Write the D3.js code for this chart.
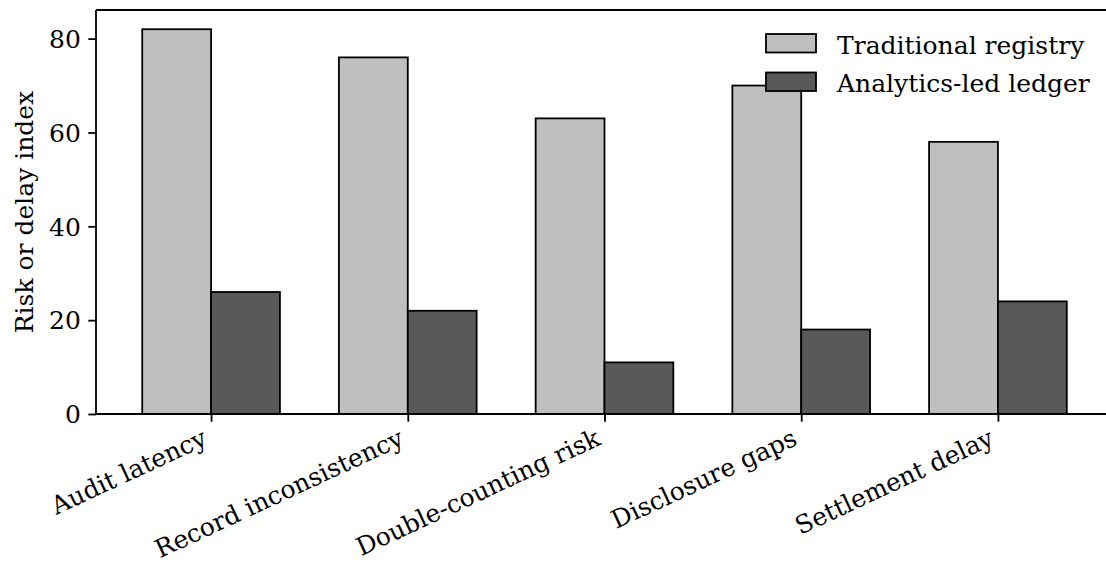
<!DOCTYPE html>
<html><head><meta charset="utf-8">
<script src="https://cdn.jsdelivr.net/npm/d3@7"></script>
<style>
html,body{margin:0;padding:0;background:#fff;}
svg{display:block;}
text{font-family:"DejaVu Serif",serif;fill:#000;}
</style></head>
<body><svg id="chart" width="1106" height="565"></svg>
<script>
const categories = ["Audit latency","Record inconsistency","Double-counting risk","Disclosure gaps","Settlement delay"];
const seriesNames = ["Traditional registry","Analytics-led ledger"];
const traditional = [82,76,63,70,58];
const analytics = [26,22,11,18,24];
const yTicks = [0,20,40,60,80];
const yLabel = "Risk or delay index";

const W = 1106, H = 565;
const margin = {left:96, top:10, right:-7, bottom:151};
const iw = W - margin.left - margin.right;
const ih = H - margin.top - margin.bottom;
const barW = 0.35;
const fontPx = 25;
const colors = ["#bfbfbf","#595959"];

const svg = d3.select("#chart");
const g = svg.append("g").attr("transform",`translate(${margin.left},${margin.top})`);

const x = d3.scaleLinear().domain([-0.585, categories.length - 1 + 0.585]).range([0, iw]);
const yMax = d3.max(traditional.concat(analytics)) * 1.05;
const y = d3.scaleLinear().domain([0, yMax]).range([ih, 0]);

const series = [traditional, analytics];
series.forEach((vals, s) => {
  g.selectAll(null).data(vals).enter().append("rect")
    .attr("x", (d,i) => x(i + (s === 0 ? -barW : 0)))
    .attr("width", (d,i) => x(i + barW) - x(i))
    .attr("y", d => y(d))
    .attr("height", d => y(0) - y(d))
    .attr("fill", colors[s])
    .attr("stroke", "#000")
    .attr("stroke-width", 1.8);
});

// spines
const sw = 1.8;
g.append("line").attr("x1",0).attr("x2",iw).attr("y1",0).attr("y2",0).attr("stroke","#000").attr("stroke-width",sw);
g.append("line").attr("x1",iw).attr("x2",iw).attr("y1",0).attr("y2",ih).attr("stroke","#000").attr("stroke-width",sw);

// y axis
const ya = g.append("g").call(d3.axisLeft(y).tickValues(yTicks).tickSize(7.7).tickPadding(7.5).tickFormat(d3.format("d")));
ya.select(".domain").attr("stroke-width",sw).attr("d",`M0,${ih}V0`);
ya.selectAll(".tick line").attr("stroke-width",sw);
ya.selectAll(".tick text").attr("font-size",fontPx).attr("font-family","DejaVu Serif").attr("dy","0.35em");

// x axis
const xa = g.append("g").attr("transform",`translate(0,${ih})`)
  .call(d3.axisBottom(x).tickValues(d3.range(categories.length)).tickSize(7.7).tickFormat(i => categories[i]));
xa.select(".domain").attr("stroke-width",sw).attr("d",`M0,0H${iw}`);
xa.selectAll(".tick line").attr("stroke-width",sw);
xa.selectAll(".tick text")
  .attr("font-size",fontPx).attr("font-family","DejaVu Serif")
  .attr("text-anchor","end")
  .attr("y",0).attr("dy",0)
  .attr("transform","translate(-3,30) rotate(-25)");

// y label
svg.append("text").attr("transform",`translate(33,${margin.top + ih/2}) rotate(-90)`)
  .attr("text-anchor","middle").attr("font-size",fontPx).text(yLabel);

// legend
const leg = g.append("g");
seriesNames.forEach((name, s) => {
  const top = 24 + s*38.5;
  leg.append("rect").attr("x", iw - 347).attr("y", top).attr("width", 50).attr("height", 18.5)
    .attr("fill", colors[s]).attr("stroke","#000").attr("stroke-width",1.8);
  leg.append("text").attr("x", iw - 276).attr("y", top + 19.5).attr("font-size",fontPx).text(name);
});
</script></body></html>
